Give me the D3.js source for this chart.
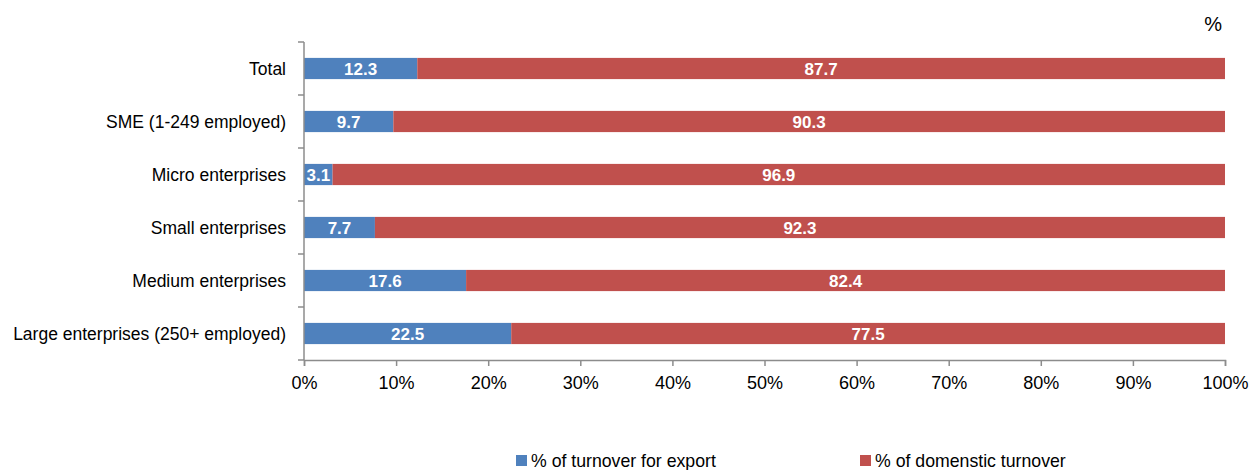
<!DOCTYPE html>
<html>
<head>
<meta charset="utf-8">
<script src="https://cdn.jsdelivr.net/npm/d3@7"></script>
<style>
  html, body { margin: 0; padding: 0; background: #fff; }
  svg { display: block; }
  .tick text { font-family: "Liberation Sans", Arial, sans-serif; }
</style>
</head>
<body>
<svg id="chart" width="1251" height="470"></svg>
<script>
// Share of turnover by enterprise size class
const categories = [
  "Total",
  "SME (1-249 employed)",
  "Micro enterprises",
  "Small enterprises",
  "Medium enterprises",
  "Large enterprises (250+ employed)"
];
const exportShare   = [12.3, 9.7, 3.1, 7.7, 17.6, 22.5];
const domesticShare = [87.7, 90.3, 96.9, 92.3, 82.4, 77.5];
const seriesNames = ["% of turnover for export", "% of domenstic turnover"];
const seriesColors = ["#4F81BD", "#C0504D"];
const xTicks = [0, 10, 20, 30, 40, 50, 60, 70, 80, 90, 100];

const svg = d3.select("#chart");
const margin = { left: 304, right: 26, top: 42, bottom: 110 };
const width = 1251, height = 470;
const axisColor = "#8c8c8c";
const fontFamily = '"Liberation Sans", Arial, sans-serif';

const x = d3.scaleLinear().domain([0, 100]).range([margin.left, width - margin.right]);
const y = d3.scaleBand().domain(categories).range([margin.top, height - margin.bottom])
  .paddingInner(0.6).paddingOuter(0.3);
const yBand = d3.scaleBand().domain(categories).range([margin.top, height - margin.bottom]);

const rows = categories.map((c, i) => ({
  cat: c,
  parts: [
    { s: 0, x0: 0, x1: exportShare[i], v: exportShare[i] },
    { s: 1, x0: exportShare[i], x1: exportShare[i] + domesticShare[i], v: domesticShare[i] }
  ]
}));

// bars with value labels
const g = svg.append("g");
rows.forEach(r => {
  r.parts.forEach(p => {
    g.append("rect")
      .attr("x", x(p.x0))
      .attr("y", y(r.cat))
      .attr("width", x(p.x1) - x(p.x0))
      .attr("height", y.bandwidth())
      .attr("fill", seriesColors[p.s]);
    g.append("text")
      .attr("x", (x(p.x0) + x(p.x1)) / 2)
      .attr("y", y(r.cat) + y.bandwidth() / 2)
      .attr("dy", "0.36em")
      .attr("text-anchor", "middle")
      .attr("fill", "#fff")
      .attr("font-family", fontFamily)
      .attr("font-weight", "bold")
      .attr("font-size", 17)
      .text(p.v.toFixed(1));
  });
});

// y axis: ticks at band boundaries
const yAxisG = svg.append("g");
yAxisG.append("line")
  .attr("x1", margin.left).attr("x2", margin.left)
  .attr("y1", margin.top).attr("y2", height - margin.bottom)
  .attr("stroke", axisColor).attr("stroke-width", 1.5);
const bounds = categories.map(c => yBand(c)).concat([height - margin.bottom]);
yAxisG.selectAll("line.yt").data(bounds).join("line")
  .attr("class", "yt")
  .attr("x1", margin.left - 6).attr("x2", margin.left)
  .attr("y1", d => d).attr("y2", d => d)
  .attr("stroke", axisColor).attr("stroke-width", 1.5);
yAxisG.selectAll("text.yl").data(categories).join("text")
  .attr("class", "yl")
  .attr("x", margin.left - 18)
  .attr("y", d => yBand(d) + yBand.bandwidth() / 2)
  .attr("dy", "0.36em")
  .attr("text-anchor", "end")
  .attr("font-family", fontFamily)
  .attr("font-size", 17.5)
  .attr("fill", "#000")
  .text(d => d);

// x axis
const xAxis = d3.axisBottom(x).tickValues(xTicks).tickFormat(d => d + "%").tickSize(6).tickPadding(10);
const xAxisG = svg.append("g")
  .attr("transform", `translate(0,${height - margin.bottom})`)
  .call(xAxis);
xAxisG.select(".domain").attr("stroke", axisColor).attr("stroke-width", 1.5);
xAxisG.selectAll(".tick line").attr("stroke", axisColor).attr("stroke-width", 1.5);
xAxisG.selectAll(".tick text").attr("font-size", 18).attr("fill", "#000");

// unit label
svg.append("text")
  .attr("x", 1222).attr("y", 31)
  .attr("text-anchor", "end")
  .attr("font-family", fontFamily)
  .attr("font-size", 20)
  .attr("fill", "#000")
  .text("%");

// legend
const legendX = [516, 860];
seriesNames.forEach((n, i) => {
  const lg = svg.append("g").attr("transform", `translate(${legendX[i]},455)`);
  lg.append("rect").attr("width", 11).attr("height", 11).attr("fill", seriesColors[i]);
  lg.append("text")
    .attr("x", 15).attr("y", 6).attr("dy", "0.36em")
    .attr("font-family", fontFamily)
    .attr("font-size", 17.7)
    .attr("fill", "#000")
    .text(n);
});
</script>
</body>
</html>
